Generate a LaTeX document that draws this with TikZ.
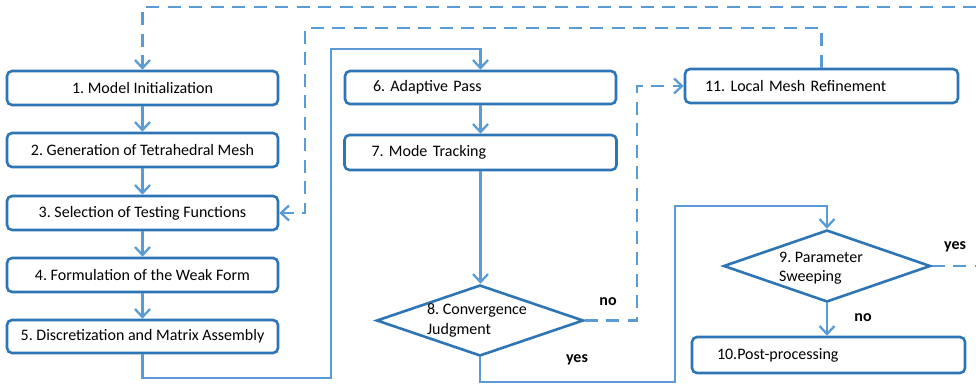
\documentclass[tikz,border=0pt]{standalone}
\usepackage{fontspec}
\setmainfont{Carlito}
\usetikzlibrary{shapes.geometric,arrows.meta}

\definecolor{boxblue}{HTML}{2E75B6}
\definecolor{lineblue}{HTML}{5B9BD5}

\tikzset{
  stepbox/.style={draw=boxblue, line width=2.6pt, rounded corners=5pt, fill=white,
    minimum width=271pt, minimum height=34pt, inner sep=0pt, font=\fontsize{16}{19}\selectfont},
  leftbox/.style={stepbox, text width=#1, align=left},
  decision/.style={diamond, draw=boxblue, line width=2.6pt, fill=white, inner sep=0pt,
    minimum width=207pt, minimum height=71pt},
  dtext/.style={align=left, inner sep=0pt, font=\fontsize{16}{19.5}\selectfont},
  flow/.style={draw=lineblue, line width=2.3pt,
    -{Straight Barb[length=8pt,width=15pt,line width=2.3pt]}},
  plain/.style={draw=lineblue, line width=2.3pt},
  dashflow/.style={flow, dash pattern=on 13pt off 8.5pt},
  dashplain/.style={plain, dash pattern=on 13pt off 8.5pt},
  lbl/.style={font=\bfseries\fontsize{16}{19}\selectfont}
}

\begin{document}
\frenchspacing
\begin{tikzpicture}[x=1pt,y=-1pt]
\useasboundingbox (0,0) rectangle (976,384);

% left column
\node[stepbox] (b1) at (142.5,88) {1. Model Initialization};
\node[stepbox] (b2) at (142.5,150) {2. Generation of Tetrahedral Mesh};
\node[stepbox] (b3) at (142.5,213) {3. Selection of Testing Functions};
\node[stepbox] (b4) at (142.5,275) {4. Formulation of the Weak Form};
\node[stepbox, minimum height=33pt] (b5) at (142.5,336.5) {5. Discretization and Matrix Assembly};

% middle column
\node[leftbox=215pt, minimum height=33pt] (b6) at (480.5,87.5) {6. Adaptive Pass};
\node[leftbox=218pt, minimum width=272pt, minimum height=35pt] (b7) at (480.5,152.5) {7. Mode Tracking};
\node[decision] (d8) at (480,320.5) {};
\node[dtext] (d8t) at (477,320.5) {8. Convergence\\Judgment};

% right column
\node[leftbox=233pt, minimum width=273pt] (b11) at (821.5,86) {11. Local Mesh Refinement};
\node[decision, minimum height=72pt] (d9) at (827,266) {};
\node[dtext] (d9t) at (821,268) {9. Parameter\\Sweeping};
\node[leftbox=223pt, minimum width=273pt, minimum height=36pt] (b10) at (828.5,355) {10.Post-processing};

% routing points
\coordinate (p1) at (331,378);
\coordinate (p2) at (331,49);
\coordinate (q1) at (675,382);
\coordinate (q2) at (675,206);
\coordinate (n1) at (637,86);
\coordinate (m1) at (305,28);
\coordinate (e1) at (976,266);
\coordinate (e2) at (976,7);

% main flow
\draw[flow] (b1) -- (b2);
\draw[flow] (b2) -- (b3);
\draw[flow] (b3) -- (b4);
\draw[flow] (b4) -- (b5);
\draw[flow] (b5.south) |- (p1) -- (p2) -| (b6.north);
\draw[flow] (b6) -- (b7);
\draw[flow] (b7.south) -- (b7.south |- d8.north);
\draw[flow] (d8.south) |- (q1) -- (q2) -| (d9.north);
\draw[flow] (d9.south) -- (d9.south |- b10.north);

% feedback loops
\draw[dashflow] (d8.east) -| (n1) -- (b11.west);
\draw[dashflow] (b11.north) |- (m1) |- (b3.east);
\draw[dashplain] (d9.east) -- (e1);
\draw[dashflow] (e2) -| (b1.north);

% branch labels
\node[lbl] (no8) at (608,302) {no};
\node[lbl] (yes8) at (577,360) {yes};
\node[lbl] (yes9) at (955,247) {yes};
\node[lbl] (no9) at (863,318) {no};
\end{tikzpicture}
\end{document}
